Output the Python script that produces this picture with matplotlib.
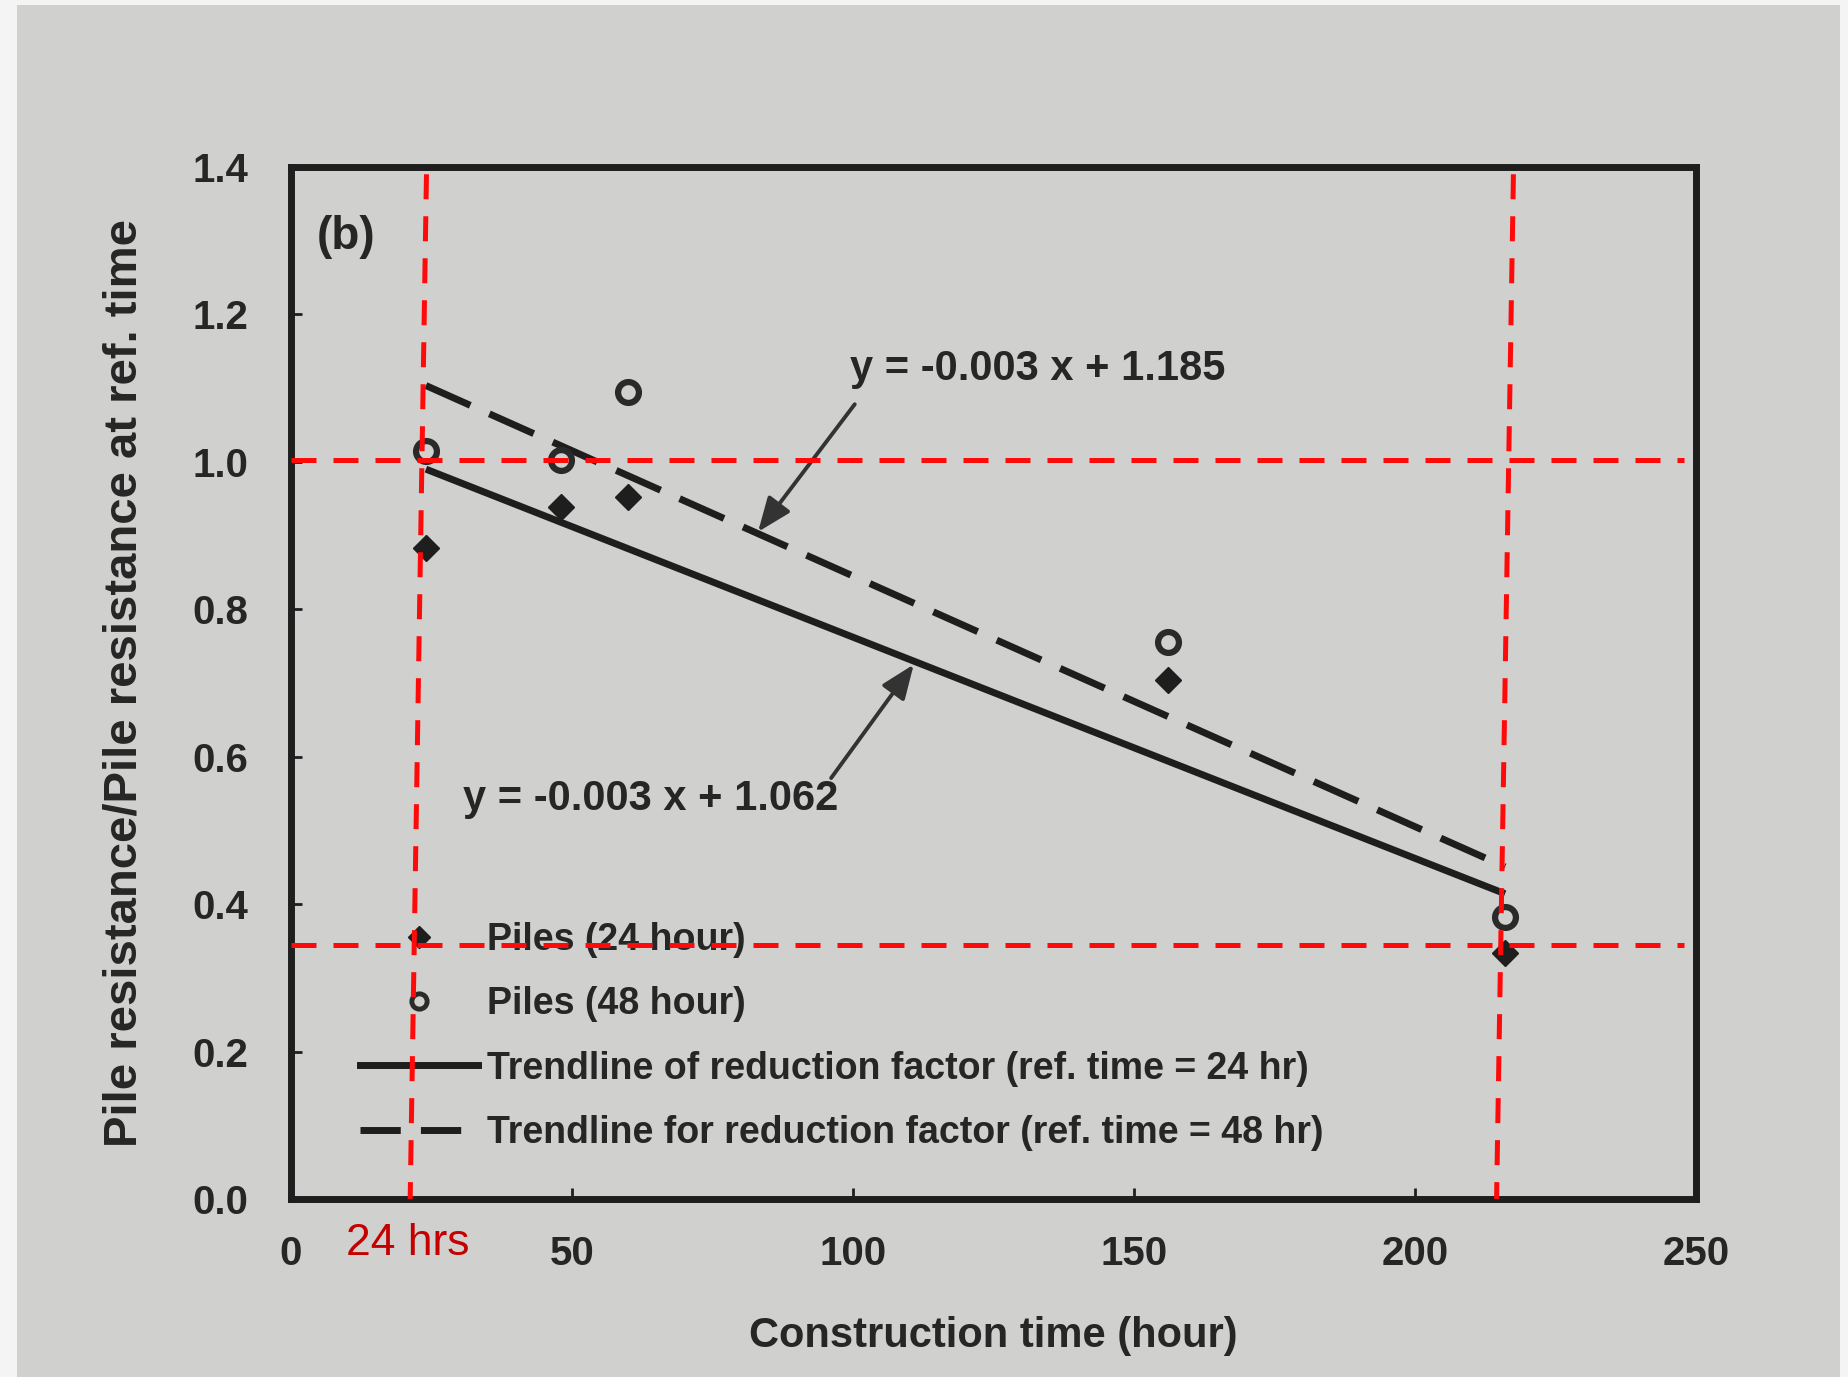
import matplotlib
matplotlib.use("Agg")
import matplotlib.pyplot as plt
from matplotlib.lines import Line2D
from matplotlib.patches import Rectangle

# ---- data -------------------------------------------------------------
time_24 = [24, 48, 60, 156, 216]
ratio_24 = [0.883, 0.939, 0.952, 0.704, 0.334]

time_48 = [24, 48, 60, 156, 216]
ratio_48 = [1.014, 1.003, 1.094, 0.755, 0.382]

trend_x = [24, 216]
slope_24, icpt_24 = -0.003, 1.062
slope_48, icpt_48 = -0.0034, 1.185

# reference guides (red)
guide_h = [1.003, 0.344]
guide_v = [(24.1, 21.2), (217.5, 214.5)]   # (x at top, x at bottom)

x_ticks = [0, 50, 100, 150, 200, 250]
y_ticks = [0.0, 0.2, 0.4, 0.6, 0.8, 1.0, 1.2, 1.4]

FONT = ["Liberation Sans", "DejaVu Sans"]
plt.rcParams["font.family"] = FONT
plt.rcParams["font.weight"] = "bold"
plt.rcParams["axes.labelweight"] = "bold"
INK = "#1e1e1e"
TXT = "#262626"
PAPER = "#d0d0ce"

fig = plt.figure(figsize=(18.49, 13.77), dpi=100, facecolor="#f4f4f4")
fig.patches.append(Rectangle((17 / 1849, 0), (1840 - 17) / 1849, 1 - 5 / 1377,
                             transform=fig.transFigure, facecolor=PAPER,
                             edgecolor="none", zorder=-10))

ax = fig.add_axes([0.1574, 0.1293, 0.7599, 0.7495])
ax.set_facecolor(PAPER)
ax.set_xlim(0, 250)
ax.set_ylim(0, 1.4)

for s in ax.spines.values():
    s.set_linewidth(5)
    s.set_color(INK)

ax.set_xticks(x_ticks)
ax.set_yticks(y_ticks)
ax.set_xticklabels([f"{v:g}" for v in x_ticks])
ax.set_yticklabels([f"{v:.1f}" for v in y_ticks])
ax.tick_params(axis="both", direction="in", length=8, width=2, color=INK,
               labelsize=29, labelcolor=TXT)
ax.tick_params(axis="x", pad=26)
ax.tick_params(axis="y", pad=31)

ax.set_xlabel("Construction time (hour)", fontsize=30, color=TXT,
              labelpad=31)
ax.set_ylabel("Pile resistance/Pile resistance at ref. time", fontsize=34,
              color=TXT, labelpad=33)

# trendlines
y24 = [slope_24 * x + icpt_24 for x in trend_x]
y48 = [slope_48 * x + icpt_48 for x in trend_x]
ax.plot(trend_x, y24, color=INK, lw=5, solid_capstyle="butt", zorder=3)
ax.plot(trend_x, y48, color=INK, lw=5, dashes=(7, 3),
        dash_capstyle="butt", zorder=3)

# measured points
ax.plot(time_24, ratio_24, linestyle="none", marker="D", ms=13,
        color=INK, zorder=4)
ax.plot(time_48, ratio_48, linestyle="none", marker="o", ms=15,
        markerfacecolor=PAPER, markeredgecolor="#2a2a2a", mew=4.5, zorder=4)

# equations with arrows
eq_48 = f"y = {slope_48:.3f} x + {icpt_48:.3f}"
eq_24 = f"y = {slope_24:.3f} x + {icpt_24:.3f}"
arrow = dict(arrowstyle="-|>,head_length=0.55,head_width=0.22", lw=2.8,
             color="#333333", mutation_scale=38, shrinkA=0, shrinkB=0)
ax.text(99.5, 1.126, eq_48, fontsize=30, color=TXT, va="center",
        ha="left")
ax.annotate("", xy=(83.1, 0.905), xytext=(100.3, 1.078), arrowprops=arrow)
ax.text(30.6, 0.542, eq_24, fontsize=30, color=TXT, va="center",
        ha="left")
ax.annotate("", xy=(110.8, 0.725), xytext=(96.1, 0.571), arrowprops=arrow)

ax.text(4.5, 1.305, "(b)", fontsize=33, color=TXT, va="center",
        ha="left")

# legend
handles = [
    Line2D([], [], linestyle="none", marker="D", ms=11, color=INK),
    Line2D([], [], linestyle="none", marker="o", ms=11,
           markerfacecolor=PAPER, markeredgecolor="#2a2a2a", mew=3.5),
    Line2D([], [], color=INK, lw=5),
    Line2D([], [], color=INK, lw=5, dashes=(5.8, 2.9)),
]
labels = [
    "Piles (24 hour)",
    "Piles (48 hour)",
    "Trendline of reduction factor (ref. time = 24 hr)",
    "Trendline for reduction factor (ref. time = 48 hr)",
]
leg = ax.legend(handles, labels, loc="upper left",
                bbox_to_anchor=(0.049, 0.268), frameon=False,
                fontsize=27, handlelength=3.15, handletextpad=0.25,
                labelspacing=0.75, borderpad=0, borderaxespad=0,
                numpoints=1)
for t in leg.get_texts():
    t.set_color(TXT)

# red reference guides
RED = "#ff0a0a"
for yv in guide_h:
    ax.plot([0, 247.9], [yv, yv], color=RED, lw=3.6, dashes=(5, 3.4),
            dash_capstyle="butt", zorder=6, clip_on=False)
for xt, xb in guide_v:
    ax.plot([xt, xb], [1.39, 0.0], color=RED, lw=3.6, dashes=(5, 3.4),
            dash_capstyle="butt", zorder=6, clip_on=False)

ax.text(20.8, -0.060, "24 hrs", fontsize=32, fontweight="normal",
        color="#c40000", ha="center", va="center")

fig.savefig("out.png", dpi=100, facecolor=fig.get_facecolor())
